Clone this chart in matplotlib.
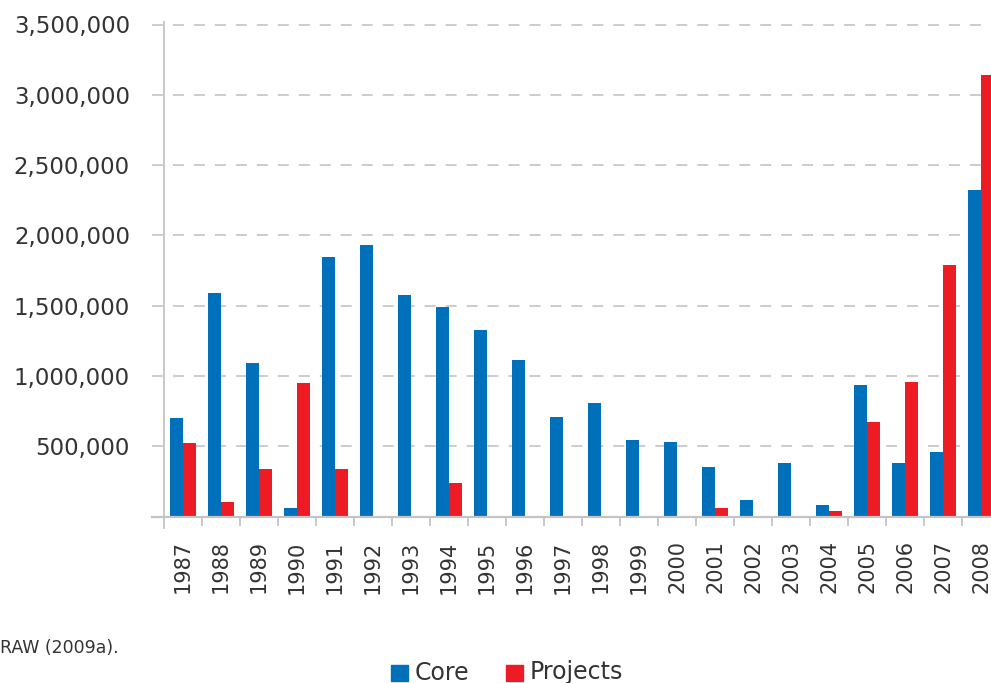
import numpy as np
import matplotlib
matplotlib.use('Agg')
import matplotlib.pyplot as plt
from matplotlib.lines import Line2D
from matplotlib.patches import Rectangle

plt.rcParams['font.family'] = ['DejaVu Sans']
plt.rcParams['lines.scale_dashes'] = False

# --- data ---
years = ['1987', '1988', '1989', '1990', '1991', '1992', '1993', '1994', '1995', '1996', '1997',
         '1998', '1999', '2000', '2001', '2002', '2003', '2004', '2005', '2006', '2007', '2008']
core = [700000, 1590000, 1090000, 60000, 1850000, 1930000, 1580000, 1490000, 1325000, 1113000, 708000,
        807000, 545000, 530000, 353000, 119000, 381000, 83000, 935000, 381000, 459000, 2320000]
projects = [523000, 104000, 339000, 949000, 339000, 0, 0, 239000, 0, 0, 0,
            0, 0, 0, 62000, 0, 0, 40000, 672000, 956000, 1787000, 3143000]
yticks = [500000, 1000000, 1500000, 2000000, 2500000, 3000000, 3500000]

BLUE = '#0070ba'
RED = '#ed1c24'
GRID = '#c4c4c4'
TXT = '#333333'

W, H = 991, 683
fig = plt.figure(figsize=(W / 100, H / 100), dpi=100)
x0, x1 = 164, 991
ybase, ytop = 516.7, 24.5
ax = fig.add_axes([x0 / W, 1 - ybase / H, (x1 - x0) / W, (ybase - ytop) / H])

x = np.arange(len(years))
bw = 0.34
ax.bar(x - bw / 2, core, bw, color=BLUE, zorder=3)
ax.bar(x + bw / 2, projects, bw, color=RED, zorder=3)

ax.set_xlim(-0.5, 21.26)
ax.set_ylim(0, 3500000)

for s in ax.spines.values():
    s.set_visible(False)

# dashed gridlines, starting a bit left of the axis
for v in yticks:
    ax.plot([-0.0145, 1], [v, v], transform=ax.get_yaxis_transform(), color=GRID,
            lw=1.2, dashes=(7.9, 7.2), clip_on=False, zorder=1)
# baseline
ax.plot([-0.0145, 1], [0, 0], transform=ax.get_yaxis_transform(), color=GRID,
        lw=1.6, clip_on=False, zorder=4)
# vertical axis line
ax.add_line(Line2D([0, 0], [-0.023, 1.005], transform=ax.transAxes, color=GRID,
                   lw=1.3, clip_on=False, zorder=4))

ax.set_yticks(yticks)
ax.set_yticklabels([f'{v:,}' for v in yticks], fontsize=16.5, color=TXT)
ax.tick_params(axis='y', length=0, pad=24.5)

ax.set_xticks(x)
ax.set_xticklabels(years, rotation=90, fontsize=15, color=TXT, va='top')
ax.tick_params(axis='x', which='major', length=0, pad=17)
ax.set_xticks(x[:-1] + 0.5, minor=True)
ax.tick_params(axis='x', which='minor', length=6.5, width=1.3, color=GRID)

# source note
fig.text(0, 1 - 648 / H, 'RAW (2009a).', fontsize=12.5, color=TXT, ha='left', va='center')

# legend
for sx, col, label in [(391, BLUE, 'Core'), (506, RED, 'Projects')]:
    fig.patches.append(Rectangle((sx / W, 1 - 681 / H), 17 / W, 16 / H,
                                 transform=fig.transFigure, color=col))
    fig.text((sx + 24) / W, 1 - 672.5 / H, label, fontsize=17, color=TXT,
             ha='left', va='center')

fig.savefig('out.png', dpi=100)
